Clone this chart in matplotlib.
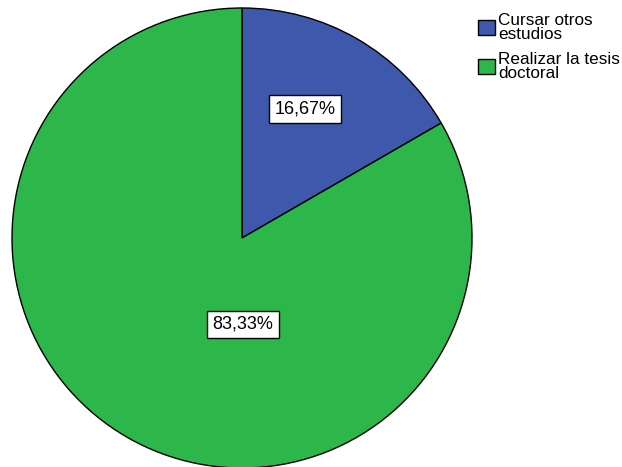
import numpy as np
import matplotlib
matplotlib.use("Agg")
import matplotlib.pyplot as plt
from matplotlib.patches import Patch

labels = ["Cursar otros\nestudios", "Realizar la tesis\ndoctoral"]
values = [16.67, 83.33]
pct_text = ["16,67%", "83,33%"]
colors = ["#3E58AC", "#2DB74A"]

plt.rcParams['font.family'] = ['Liberation Sans', 'DejaVu Sans']

fig = plt.figure(figsize=(6.22, 4.67), dpi=100)
W, H = 622, 467
cx, cy, r = 242, 238, 230
ax = fig.add_axes([(cx - r) / W, (H - cy - r) / H, 2 * r / W, 2 * r / H])
ax.pie(values, colors=colors, startangle=90, counterclock=False,
       wedgeprops=dict(edgecolor="black", linewidth=1.0))
ax.set_xlim(-1, 1)
ax.set_ylim(-1, 1)
ax.set_aspect("equal")
ax.axis("off")

# label positions (in radius units) as placed in the original
label_pos = [(0.274, 0.561), (0.004, -0.376)]
for (x, y), t in zip(label_pos, pct_text):
    ax.text(x, y, t, ha="center", va="center", fontsize=13,
            bbox=dict(boxstyle="square,pad=0.3", fc="white", ec="black", lw=1.0))

handles = [Patch(facecolor=c, edgecolor="black", linewidth=1.0) for c in colors]
leg = fig.legend(handles, labels, loc="upper left", bbox_to_anchor=(478 / W, 1 - 13 / H),
                 frameon=False, fontsize=12.3, handlelength=1.0, handleheight=1.0,
                 handletextpad=0.2, labelspacing=0.55, borderpad=0, borderaxespad=0)
for t in leg.get_texts():
    t.set_linespacing(0.95)

fig.savefig("out.png", dpi=100)
